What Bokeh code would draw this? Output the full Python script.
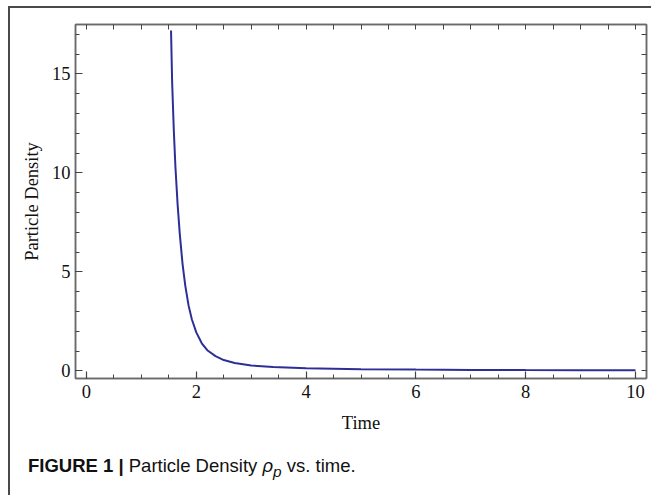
from bokeh.plotting import figure
from bokeh.models import LinearAxis, SingleIntervalTicker, FixedTicker, Range1d, Div, ColumnDataSource
from bokeh.layouts import column
from bokeh.embed import file_html
from bokeh.resources import INLINE

# Data
time = [1.54, 1.56, 1.59, 1.62, 1.66, 1.70, 1.75, 1.80, 1.86, 1.92, 2.00, 2.10,
        2.20, 2.35, 2.50, 2.70, 3.00, 3.40, 4.00, 5.00, 6.00, 7.00, 8.00, 9.00, 10.0]
density = [17.2, 14.6, 12.2, 10.3, 8.4, 6.9, 5.4, 4.3, 3.3, 2.6, 1.95, 1.4,
           1.05, 0.75, 0.55, 0.40, 0.28, 0.20, 0.14, 0.09, 0.07, 0.055, 0.045, 0.04, 0.035]
x_tick_step = 2
y_tick_step = 5
x_minor_step = 0.5
y_minor_step = 1

SERIF = "Liberation Serif"
FRAME = "#6a6a6a"
TXT = "18.5px"

p = figure(width=640, height=427, output_backend="svg", toolbar_location=None,
           x_range=Range1d(-0.2, 10.2), y_range=Range1d(-0.38, 17.5),
           min_border_left=65, min_border_right=4, min_border_top=16, min_border_bottom=10,
           x_axis_label="Time", y_axis_label="Particle Density")
p.grid.visible = False
p.outline_line_color = FRAME
p.outline_line_width = 1.5
p.background_fill_color = "white"
p.border_fill_color = "white"

src = ColumnDataSource(dict(t=time, rho=density))
p.line("t", "rho", source=src, line_color="#2d2f96", line_width=2)


def style(ax, ticker):
    ax.ticker = ticker
    ax.axis_line_color = FRAME
    ax.axis_line_width = 1.5
    ax.major_tick_line_color = "#444444"
    ax.minor_tick_line_color = "#444444"
    ax.major_tick_in = 7
    ax.major_tick_out = 0
    ax.minor_tick_in = 4
    ax.minor_tick_out = 0
    ax.major_tick_line_width = 1.2
    ax.minor_tick_line_width = 1
    ax.major_label_text_font = SERIF
    ax.major_label_text_font_size = TXT
    ax.major_label_text_color = "#111111"
    ax.axis_label_text_font = SERIF
    ax.axis_label_text_font_size = TXT
    ax.axis_label_text_font_style = "normal"
    ax.axis_label_text_color = "#111111"


style(p.xaxis[0], SingleIntervalTicker(interval=x_tick_step, num_minor_ticks=int(x_tick_step / x_minor_step)))
style(p.yaxis[0], SingleIntervalTicker(interval=y_tick_step, num_minor_ticks=int(y_tick_step / y_minor_step)))
p.xaxis[0].major_label_standoff = 6
p.xaxis[0].axis_label_standoff = 12
p.yaxis[0].major_label_standoff = 5
p.yaxis[0].axis_label_standoff = 7

# mirrored tick marks on top and right (ticks only, no labels)
top_pos = [i * x_minor_step for i in range(0, 21)]
right_pos = [i * y_minor_step for i in range(0, 18)]
for side, pos in (("above", top_pos), ("right", right_pos)):
    ax = LinearAxis(ticker=FixedTicker(ticks=[], minor_ticks=pos))
    ax.axis_line_color = FRAME
    ax.axis_line_width = 1.5
    ax.minor_tick_line_color = "#444444"
    ax.minor_tick_in = 5
    ax.minor_tick_out = 0
    ax.major_tick_in = 0
    ax.major_tick_out = 0
    ax.major_label_standoff = 0
    p.add_layout(ax, side)

cap = Div(text='<b>FIGURE 1 |</b> Particle Density <i>&rho;<sub>p</sub></i> vs. time.',
          width=640, height=50,
          styles={"font-family": "Liberation Sans", "font-size": "18.5px", "color": "#111111",
                  "padding-left": "13px", "padding-top": "13px"})

layout = column(p, cap, spacing=0, margin=(6, 0, 0, 8),
                styles={"border-left": "2px solid #4a4a4a", "border-top": "2px solid #4a4a4a",
                        "background-color": "white"})

with open("out.html", "w") as f:
    f.write(file_html(layout, INLINE))
